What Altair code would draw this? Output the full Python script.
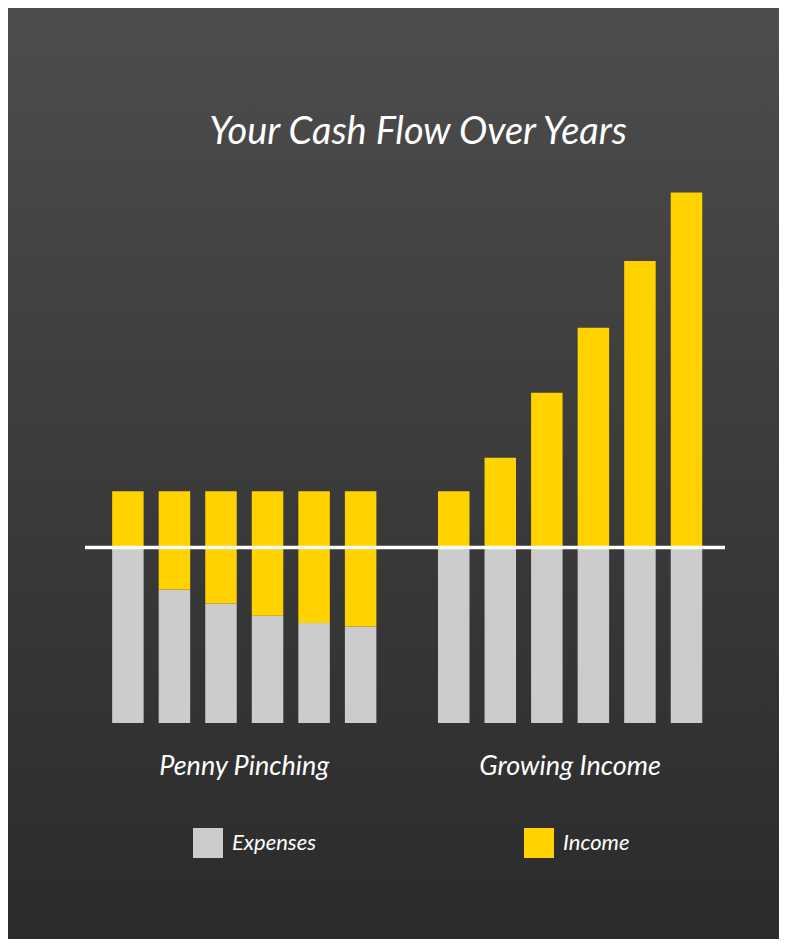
import altair as alt
import pandas as pd

# ---- data ----
groups = ["Penny Pinching", "Growing Income"]
slots_penny = [0, 1, 2, 3, 4, 5]
slots_growing = [7, 8, 9, 10, 11, 12]
income_penny = [132, 132, 132, 132, 132, 132]
expenses_penny = [100, 76, 68, 61, 57, 55]
income_growing = [132, 151, 188, 225, 263, 302]
expenses_growing = [100, 100, 100, 100, 100, 100]
group_centers = [2.5, 9.5]
series = ["Expenses", "Income"]
colors = ["#cccccc", "#ffd200"]
baseline_value = 100

rows = []
for s, inc, exp in zip(slots_penny + slots_growing,
                       income_penny + income_growing,
                       expenses_penny + expenses_growing):
    rows.append({"slot": s, "series": "Expenses", "y0": 0, "y1": exp})
    rows.append({"slot": s, "series": "Income", "y0": exp, "y1": inc})
bars_df = pd.DataFrame(rows)
labels_df = pd.DataFrame({"group": groups, "slot": group_centers, "yv": [-25, -25]})

W, H = 640, 562
PAD = {"left": 77, "top": 153, "right": 54, "bottom": 216}

xscale = alt.Scale(domain=[-0.814, 12.72], nice=False, zero=False)
yscale = alt.Scale(domain=[0, 320], nice=False)

bg = alt.Chart(pd.DataFrame({"a": [0]})).mark_rect(
    color={"gradient": "linear", "x1": 0, "y1": 0, "x2": 0, "y2": 1,
           "stops": [{"offset": 0, "color": "#4d4d4d"},
                     {"offset": 0.35, "color": "#404040"},
                     {"offset": 1, "color": "#2b2b2b"}]}
).encode(
    x=alt.value(-PAD["left"]), x2=alt.value(W + PAD["right"]),
    y=alt.value(-PAD["top"]), y2=alt.value(H + PAD["bottom"])
)

bars = alt.Chart(bars_df).mark_bar(width=31.5).encode(
    x=alt.X("slot:Q", scale=xscale, axis=None),
    y=alt.Y("y0:Q", scale=yscale, axis=None),
    y2="y1:Q",
    color=alt.Color("series:N",
                    scale=alt.Scale(domain=series, range=colors),
                    legend=alt.Legend(title=None, orient="none",
                                      legendX=108, legendY=667,
                                      direction="horizontal",
                                      symbolType="square", symbolSize=900,
                                      symbolStrokeWidth=0, symbolOpacity=1,
                                      labelFont="Lato", labelFontStyle="italic",
                                      labelFontSize=22, labelColor="white",
                                      labelOffset=9, columnPadding=208)),
)

rule = alt.Chart(pd.DataFrame({"b": [baseline_value]})).mark_rule(
    color="white", strokeWidth=3.5
).encode(y=alt.Y("b:Q", scale=yscale, axis=None))

labels = alt.Chart(labels_df).mark_text(
    font="Lato", fontStyle="italic", fontSize=27, color="white", baseline="middle"
).encode(
    x=alt.X("slot:Q", scale=xscale, axis=None),
    y=alt.Y("yv:Q", scale=yscale, axis=None),
    text="group:N",
)

chart = alt.layer(bg, bars, rule, labels).properties(
    width=W, height=H,
    autosize=alt.AutoSizeParams(type="none"),
    padding=PAD,
    background="#333333",
    title=alt.TitleParams("Your Cash Flow Over Years", font="Lato",
                          fontStyle="italic", fontWeight="normal",
                          fontSize=38, color="white", anchor="middle",
                          baseline="alphabetic", offset=12, dx=13, dy=186),
).configure_view(stroke=None)

chart.save("out.html", embed_options={"renderer": "svg", "actions": False})
